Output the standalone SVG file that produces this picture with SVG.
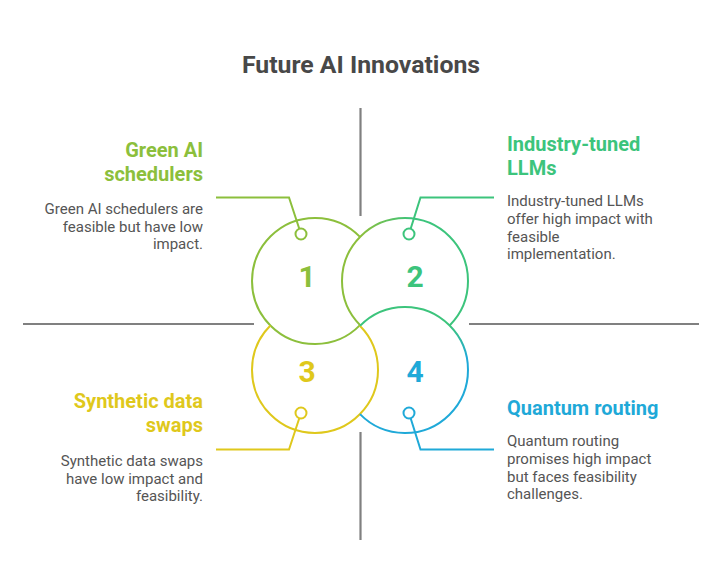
<svg xmlns="http://www.w3.org/2000/svg" width="721" height="588" viewBox="0 0 721 588">
<defs>
<linearGradient id="g2" x1="0" y1="0" x2="1" y2="0">
<stop offset="0.15" stop-color="#8cbf3c"/>
<stop offset="0.55" stop-color="#3cc47c"/>
</linearGradient>
<linearGradient id="g4" x1="0" y1="0" x2="0" y2="1">
<stop offset="0.15" stop-color="#3cc47c"/>
<stop offset="0.4" stop-color="#1fa9d8"/>
</linearGradient>
</defs>
<style>
text{font-family:Roboto,"Liberation Sans",sans-serif}
.title{font-size:24.8px;font-weight:700;fill:#484848;text-anchor:middle}
.head{font-size:20px;font-weight:700}
.body{font-size:15px;fill:#555555}
.num{font-size:30px;font-weight:700;text-anchor:middle}
.r{text-anchor:end}
.ring{fill:none;stroke-width:2}
.dot{fill:#ffffff;stroke-width:2}
.lead{fill:none;stroke-width:2}
.axis{stroke:#808080;stroke-width:2.2}
</style>
<rect width="721" height="588" fill="#ffffff"/>
<text class="title" x="361" y="73.3">Future AI Innovations</text>
<g id="axes">
<line class="axis" x1="360.5" y1="108" x2="360.5" y2="216"/>
<line class="axis" x1="360.5" y1="432" x2="360.5" y2="540"/>
<line class="axis" x1="23" y1="324" x2="254" y2="324"/>
<line class="axis" x1="469" y1="324" x2="699" y2="324"/>
</g>
<g id="connectors">
<polyline class="lead" stroke="#8cbf3c" points="216,197.5 289,197.5 301,234"/>
<polyline class="lead" stroke="#3cc47c" points="494,197.5 420.5,197.5 409,234"/>
<polyline class="lead" stroke="#dfc81c" points="216,449.5 289,449.5 301,413"/>
<polyline class="lead" stroke="#1fa9d8" points="494,449.5 420.5,449.5 409,413"/>
</g>
<g id="node1">
<path class="ring" stroke="#8cbf3c" d="M360,325.1 A63,63 0 1 1 360,236.9"/>
<circle class="dot" stroke="#8cbf3c" cx="301" cy="234" r="5.5"/>
<text class="num" x="307" y="287.3" fill="#8cbf3c">1</text>
<text class="head r" x="203" y="156.7" fill="#8cbf3c">Green AI</text>
<text class="head r" x="203" y="181" fill="#8cbf3c">schedulers</text>
<text class="body r" x="203" y="214.3">Green AI schedulers are</text>
<text class="body r" x="203" y="231.8">feasible but have low</text>
<text class="body r" x="203" y="249.3">impact.</text>
</g>
<g id="node2">
<path class="ring" stroke="url(#g2)" d="M449.6,325.5 A63,63 0 1 0 360.4,325.5"/>
<circle class="dot" stroke="#3cc47c" cx="409" cy="234" r="5.5"/>
<text class="num" x="415" y="287.3" fill="#3cc47c">2</text>
<text class="head" x="507" y="151" fill="#3cc47c">Industry-tuned</text>
<text class="head" x="507" y="174.5" fill="#3cc47c">LLMs</text>
<text class="body" x="507" y="206">Industry-tuned LLMs</text>
<text class="body" x="507" y="223.8">offer high impact with</text>
<text class="body" x="507" y="241.6">feasible</text>
<text class="body" x="507" y="259.4">implementation.</text>
</g>
<g id="node3">
<path class="ring" stroke="#dfc81c" d="M359.6,325.5 A63,63 0 1 1 270.4,325.5"/>
<circle class="dot" stroke="#dfc81c" cx="301" cy="413" r="5.5"/>
<text class="num" x="307" y="382.3" fill="#dfc81c">3</text>
<text class="head r" x="203" y="407.7" fill="#dfc81c">Synthetic data</text>
<text class="head r" x="203" y="431.7" fill="#dfc81c">swaps</text>
<text class="body r" x="203" y="466">Synthetic data swaps</text>
<text class="body r" x="203" y="483.5">have low impact and</text>
<text class="body r" x="203" y="501">feasibility.</text>
</g>
<g id="node4">
<path class="ring" stroke="url(#g4)" d="M360,325.9 A63,63 0 1 1 360,414.1"/>
<circle class="dot" stroke="#1fa9d8" cx="409" cy="413" r="5.5"/>
<text class="num" x="415" y="382.3" fill="#1fa9d8">4</text>
<text class="head" x="507" y="415" fill="#1fa9d8">Quantum routing</text>
<text class="body" x="507" y="446">Quantum routing</text>
<text class="body" x="507" y="463.8">promises high impact</text>
<text class="body" x="507" y="481.6">but faces feasibility</text>
<text class="body" x="507" y="499.4">challenges.</text>
</g>
</svg>
